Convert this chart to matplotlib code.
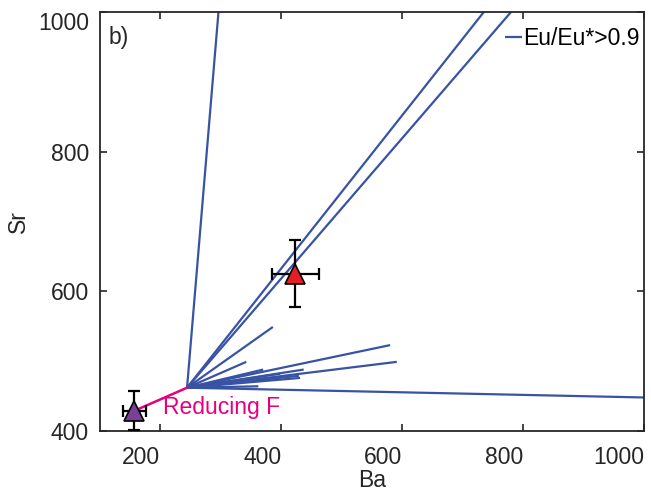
import matplotlib.pyplot as plt

plt.rcParams['font.family'] = ['Liberation Sans', 'DejaVu Sans']

# origin of the Eu/Eu*>0.9 fan
origin_ba = 244
origin_sr = 462

# end points of the fan lines
end_ba = [296, 735, 780, 386, 342, 580, 591, 370, 437, 431, 398, 429, 365, 362, 1000]
end_sr = [1000, 1000, 1000, 549, 499, 523, 499, 488, 488, 476, 482, 479, 474, 464, 448]

# purple (reduced) point with error bars
purple_ba, purple_sr = 157, 429
purple_xerr, purple_yerr = 19, 28

# red point with error bars
red_ba, red_sr = 423, 625
red_xerr, red_yerr = 39, 48

xticks = [200, 400, 600, 800, 1000]
yticks = [400, 600, 800, 1000]

blue = '#3953a4'
pink = '#e6007e'
dark = '#262626'

fig = plt.figure(figsize=(6.51, 4.99), dpi=100)
ax = fig.add_axes([100 / 651, 68 / 499, 544 / 651, 419 / 499])

for i, (bx, sy) in enumerate(zip(end_ba, end_sr)):
    ax.plot([origin_ba, bx], [origin_sr, sy], color=blue, lw=1.6,
            solid_capstyle='butt', label='Eu/Eu*>0.9' if i == 0 else None, zorder=2)

ax.plot([purple_ba, origin_ba], [purple_sr, origin_sr], color=pink, lw=1.8, zorder=2)
ax.text(205, 434, 'Reducing F', color=pink, fontsize=16.5, ha='left', va='center')

for bx, sy, xe, ye, col in [(purple_ba, purple_sr, purple_xerr, purple_yerr, '#7a3f97'),
                            (red_ba, red_sr, red_xerr, red_yerr, '#e31e24')]:
    ax.errorbar(bx, sy, xerr=xe, yerr=ye, fmt='none', ecolor='black', elinewidth=1.6,
                capsize=4.5, capthick=1.6, zorder=3)
    ax.plot(bx, sy, marker='^', ms=14, color=col, mec='black', mew=1.2, ls='none', zorder=4)

ax.set_xlim(100, 1000)
ax.set_ylim(400, 1000)
ax.set_xticks(xticks)
ax.set_yticks(yticks)
ax.set_xticklabels([str(t) for t in xticks], ha='right')
ax.set_yticklabels([str(t) for t in yticks])
ax.get_yticklabels()[-1].set_va('top')

ax.tick_params(direction='in', length=5, width=1.2, top=True, right=True,
               labelsize=16.5, colors=dark)
ax.tick_params(axis='x', pad=11)
ax.tick_params(axis='y', pad=8)
for s in ax.spines.values():
    s.set_linewidth(1.3)
    s.set_color(dark)

ax.set_xlabel('Ba', fontsize=16.5, color=dark, labelpad=0)
ax.set_ylabel('Sr', fontsize=16.5, color=dark, labelpad=6)

ax.text(0.015, 0.94, 'b)', transform=ax.transAxes, fontsize=16.5, ha='left', va='center',
        color=dark)

ax.legend(loc='center right', bbox_to_anchor=(0.992, 0.936), frameon=False, fontsize=16.5,
          handlelength=0.75, handletextpad=0.05, borderaxespad=0, borderpad=0)

fig.savefig('out.png', dpi=100)
